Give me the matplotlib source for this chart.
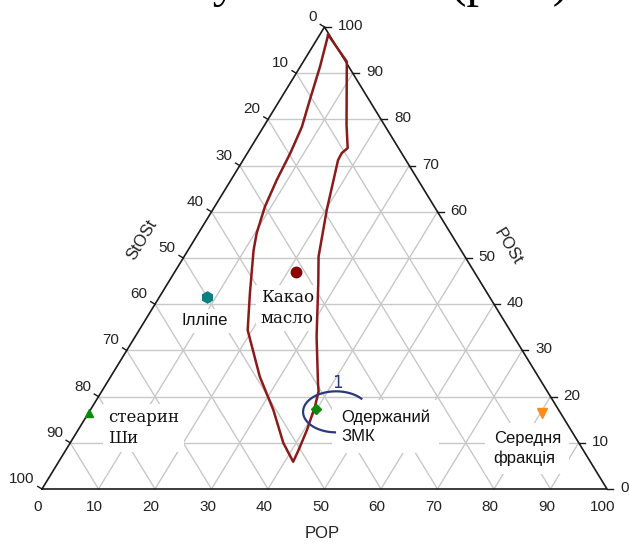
import numpy as np
import matplotlib.pyplot as plt

# ternary system: POP (bottom), POSt (right), StOSt (left), % ; StOSt = 100 - POP - POSt
ticks = np.arange(0, 101, 10)

# outline of the compatibility region (POP, POSt)
region_pop = [1.5, 7.7, 14.5, 17.2, 16.7, 16.8, 20.2, 23.8, 26.6, 32.1, 37.4, 38.4, 39.4, 40.5,
              41.2, 41.5, 37.7, 32.4, 26.4, 19.2, 15.6, 11.6, 10.3, 8.9, 8.1, 7.6, 6.8, 5.3, 3.5, 1.5]
region_post = [98.3, 92.5, 78.8, 73.8, 72.7, 71.2, 60.4, 50.3, 44.6, 33.0, 22.9, 21.1, 17.8, 12.8,
               8.4, 5.9, 10.0, 17.1, 24.3, 34.4, 42.4, 51.7, 55.4, 61.1, 66.9, 72.7, 78.4, 84.2, 91.4, 98.3]

# fats
fat_names = ['Какао\nмасло', 'Ілліпе', 'стеарин\nШи', 'Одержаний\nЗМК', 'Середня\nфракція']
fat_pop = [21.5, 8.4, 0.0, 39.9, 80.2]
fat_post = [47.0, 41.6, 16.5, 17.3, 16.5]

fat_marker = ['o', 'h', '^', 'D', 'v']
fat_color = ['#8b0000', '#0a8080', '#0a8a0a', '#0a8a0a', '#ff8c1a']
fat_ms = [7.5, 8, 6, 5.5, 6.5]
fat_font = ['DejaVu Serif', 'Liberation Sans', 'DejaVu Serif', 'Liberation Sans', 'Liberation Sans']
fat_fs = [12, 12, 12, 12, 12]
fat_offset = [(-6.5, -26), (-1.4, -17.3), (13.7, -11), (18, -12.5), (-34.6, -25.6)]
fat_ha = ['center', 'center', 'left', 'left', 'left']
fat_pad = [0.25, 0.25, 0.3, 0.55, 0.5]


def tern(pop, post):
    pop = np.asarray(pop, dtype=float)
    post = np.asarray(post, dtype=float)
    return pop + post / 2, post


fig = plt.figure(figsize=(6.29, 5.46), dpi=100)
ax = fig.add_axes([0, 0, 1, 1])
ax.set_xlim(-7.434, 103.894)
ax.set_ylim(-12.338, 105.844)
ax.axis('off')

# piece of the document text cut off by the picture
fig.text(569 / 629, 1 + 4 / 546, 'дані вказані у межах їх (рис.)', ha='right', va='baseline',
         fontsize=36, family='Liberation Serif')

# grid
gc = '#c8c8c8'
for k in ticks[1:-1]:
    ax.plot([k / 2, 100 - k / 2], [k, k], color=gc, lw=1, zorder=1)
    x0, y0 = tern(k, 0)
    x1, y1 = tern(k, 100 - k)
    ax.plot([x0, x1], [y0, y1], color=gc, lw=1, zorder=1)
    x0, y0 = tern(100 - k, 0)
    x1, y1 = tern(0, 100 - k)
    ax.plot([x0, x1], [y0, y1], color=gc, lw=1, zorder=1)

# frame
fx, fy = tern([0, 100, 0, 0], [0, 0, 100, 0])
ax.plot(fx, fy, color='#1a1a1a', lw=1.2, zorder=3)

tick_kw = dict(textcoords='offset points', fontsize=11, family='Liberation Sans', color='#222222', va='center')
for k in ticks:
    # bottom, POP
    ax.annotate(str(k), tern(k, 0), xytext=(-2.9, -13), ha='center', **tick_kw)
    # right, POSt
    x, y = tern(100 - k, k)
    ax.plot([x, x + 1.1], [y, y], color='#1a1a1a', lw=1, zorder=3)
    ax.annotate(str(k), (x, y), xytext=(9.4, 0.7), ha='left', **tick_kw)
    # left, StOSt
    x, y = tern(0, 100 - k)
    ax.plot([x, x - 0.75], [y, y + 0.55], color='#1a1a1a', lw=1, zorder=3)
    ax.annotate(str(k), (x, y), xytext=(-5.4, 7.2), ha='right', **tick_kw)

title_kw = dict(textcoords='offset points', fontsize=12, family='Liberation Sans', color='#222222',
                ha='center', va='center')
ax.annotate('StOSt', tern(0, 50), xytext=(-29.5, 13), rotation=58.6, **title_kw)
ax.annotate('POSt', tern(50, 50), xytext=(30.6, 8.1), rotation=-58.6, **title_kw)
ax.annotate('POP', tern(50, 0), xytext=(-1.8, -31.7), **title_kw)

# region outline
rx, ry = tern(region_pop, region_post)
ax.plot(rx, ry, color='#8b1a1a', lw=1.8, zorder=4)

# points and labels
for i in range(len(fat_names)):
    px, py = tern(fat_pop[i], fat_post[i])
    ax.plot(px, py, marker=fat_marker[i], color=fat_color[i], ms=fat_ms[i], ls='none', zorder=6)
    ax.annotate(fat_names[i], (px, py), xytext=fat_offset[i], textcoords='offset points',
                ha=fat_ha[i], va='center', fontsize=fat_fs[i], family=fat_font[i], color='#111111',
                linespacing=1.35, zorder=2,
                bbox=dict(boxstyle='square,pad=%.2f' % fat_pad[i], fc='white', ec='none'))

# hand-drawn mark around the obtained fat
zx, zy = tern(fat_pop[3], fat_post[3])
t = np.radians(np.linspace(40, 268, 80))
ax.plot(zx + 3.5 + 5.84 * np.cos(t), zy - 0.6 + 4.44 * np.sin(t), color='#2a3a78', lw=1.6, zorder=5)
ax.annotate('1', (zx, zy), xytext=(15, 19), textcoords='offset points', ha='center', va='center',
            fontsize=12, family='DejaVu Sans', color='#2a3a78', zorder=5)

plt.savefig('out.png', dpi=100)
